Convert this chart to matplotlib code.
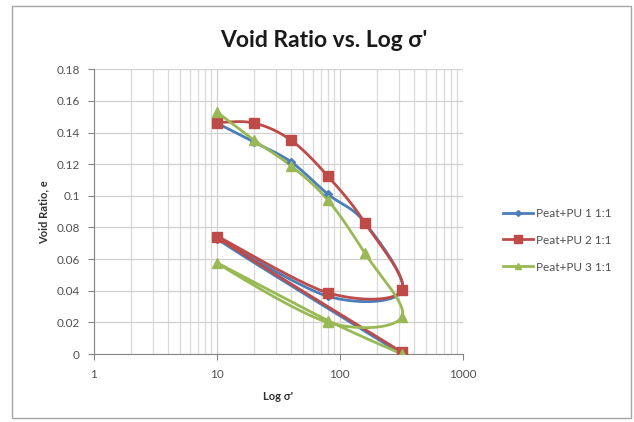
import numpy as np
import matplotlib
matplotlib.use("Agg")
import matplotlib.pyplot as plt
from matplotlib.lines import Line2D

# stress steps (kPa) and void ratios
x_12 = [10, 20, 40, 80, 160, 320, 80, 10, 320]
e_pu1 = [0.146, 0.134, 0.1215, 0.101, 0.083, 0.040, 0.0365, 0.073, 0.000]
e_pu2 = [0.1463, 0.146, 0.1352, 0.1124, 0.0829, 0.0404, 0.0387, 0.0741, 0.0012]
x_3 = [10, 20, 40, 80, 160, 320, 80, 10, 80, 320]
e_pu3 = [0.153, 0.1352, 0.119, 0.0973, 0.0636, 0.0235, 0.0200, 0.0577, 0.0212, 0.000]

names = ["Peat+PU 1 1:1", "Peat+PU 2 1:1", "Peat+PU 3 1:1"]
colors = ["#4A7EBB", "#BE4B48", "#98B954"]
markers = ["D", "s", "^"]
msizes = [4, 7, 6.5]

plt.rcParams['font.family'] = ['Lato', 'DejaVu Sans']


def smooth(xs, ys, W=369.0, H=285.0, n=30):
    # excel-like bezier smoothing done in screen-ish units
    u = np.log10(np.asarray(xs, float)) / 3.0 * W
    v = np.asarray(ys, float) / 0.18 * H
    P = np.column_stack([u, v])
    out = [P[0]]
    t = np.linspace(0, 1, n)[1:, None]
    for i in range(len(P) - 1):
        p0 = P[i - 1] if i > 0 else P[i]
        p1, p2 = P[i], P[i + 1]
        p3 = P[i + 2] if i + 2 < len(P) else P[i + 1]
        c1 = p1 + (p2 - p0) / 6.0
        c2 = p2 - (p3 - p1) / 6.0
        seg = ((1 - t) ** 3) * p1 + 3 * ((1 - t) ** 2) * t * c1 + 3 * (1 - t) * t ** 2 * c2 + t ** 3 * p2
        out.extend(seg)
    out = np.array(out)
    return 10 ** (out[:, 0] / W * 3.0), out[:, 1] / H * 0.18


fig = plt.figure(figsize=(6.34, 4.22), dpi=100)
fig.patches.append(plt.Rectangle((0.019, 0.01), 0.977, 0.975, transform=fig.transFigure,
                                 fill=False, edgecolor="#a6a6a6", linewidth=1.0))
ax = fig.add_axes([0.148, 0.161, 0.582, 0.675])

series = [(x_12, e_pu1), (x_12, e_pu2), (x_3, e_pu3)]
handles = []
for (xs, ys), c, m, ms, nm in zip(series, colors, markers, msizes, names):
    sx, sy = smooth(xs, ys)
    ax.plot(sx, sy, color=c, linewidth=2.0, solid_capstyle="round", zorder=3)
    ax.plot(xs, ys, linestyle="none", marker=m, color=c, markersize=ms, zorder=4)
    handles.append(Line2D([], [], color=c, linewidth=2.0, marker=m, markersize=ms * 0.75, label=nm))

ax.set_xscale("log")
ax.set_xlim(1, 1000)
ax.set_ylim(0, 0.18)
ax.set_yticks(np.arange(0, 0.181, 0.02))
ax.set_yticklabels(["0", "0.02", "0.04", "0.06", "0.08", "0.1", "0.12", "0.14", "0.16", "0.18"])
ax.set_xticks([1, 10, 100, 1000])
ax.set_xticklabels(["1", "10", "100", "1000"])
ax.grid(True, which="major", color="#d0d0d0", linewidth=0.9)
ax.grid(True, which="minor", axis="x", color="#d9d9d9", linewidth=0.9)
ax.set_axisbelow(True)
for s in ["top", "right"]:
    ax.spines[s].set_visible(False)
for s in ["left", "bottom"]:
    ax.spines[s].set_color("#868686")
ax.tick_params(axis="both", which="major", labelsize=8.5, colors="#868686", labelcolor="#505050",
               length=4, direction="out")
ax.tick_params(axis="x", which="minor", length=0)
ax.tick_params(axis="x", pad=7)
ax.tick_params(axis="y", pad=6)

fig.text(0.51, 0.905, "Void Ratio vs. Log σ'", fontsize=16.5, fontweight="bold",
         ha="center", va="center", color="#1a1a1a")
ax.set_xlabel("Log σ'", fontsize=8, fontweight="bold", labelpad=8, color="#303030")
ax.set_ylabel("Void Ratio, e", fontsize=8, fontweight="bold", labelpad=5, color="#303030")

fig.legend(handles=handles, loc="center left", bbox_to_anchor=(0.776, 0.431), frameon=False,
           fontsize=8.5, handlelength=2.6, labelspacing=1.35, handletextpad=0.2,
           labelcolor="#505050")

fig.savefig("out.png", dpi=100)
